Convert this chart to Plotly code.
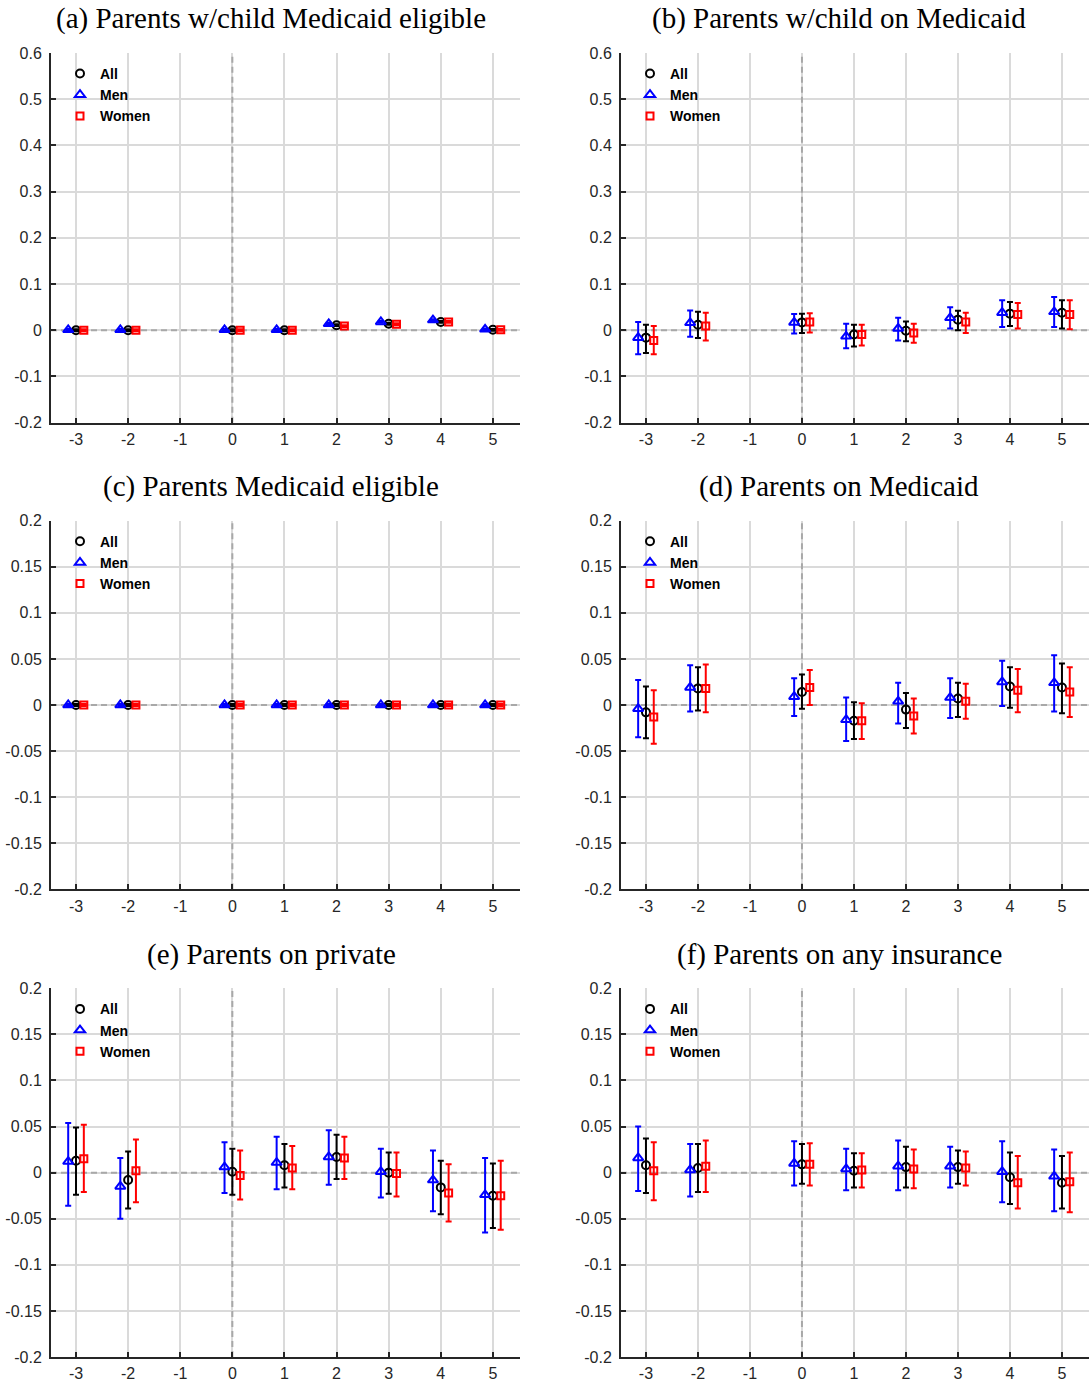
import plotly.graph_objects as go

# ---------------- data ----------------
event_time = [-3, -2, 0, 1, 2, 3, 4, 5]

x_tickvals = [-3, -2, -1, 0, 1, 2, 3, 4, 5]
x_ticktext = ["-3", "-2", "-1", "0", "1", "2", "3", "4", "5"]
y_tickvals_top = [-0.2, -0.1, 0, 0.1, 0.2, 0.3, 0.4, 0.5, 0.6]
y_ticktext_top = ["-0.2", "-0.1", "0", "0.1", "0.2", "0.3", "0.4", "0.5", "0.6"]
y_tickvals_low = [-0.2, -0.15, -0.1, -0.05, 0, 0.05, 0.1, 0.15, 0.2]
y_ticktext_low = ["-0.2", "-0.15", "-0.1", "-0.05", "0", "0.05", "0.1", "0.15", "0.2"]

group_names = ["All", "Men", "Women"]

panel_titles = [
    "(a) Parents w/child Medicaid eligible",
    "(b) Parents w/child on Medicaid",
    "(c) Parents Medicaid eligible",
    "(d) Parents on Medicaid",
    "(e) Parents on private",
    "(f) Parents on any insurance",
]

# (a) Parents w/child Medicaid eligible
a_all = [0.000, 0.000, 0.000, 0.000, 0.011, 0.014, 0.018, 0.001]
a_all_lo = [-0.002, -0.002, -0.002, -0.002, 0.009, 0.012, 0.016, -0.001]
a_all_hi = [0.002, 0.002, 0.002, 0.002, 0.013, 0.016, 0.020, 0.003]
a_men = [0.001, 0.001, 0.001, 0.001, 0.014, 0.018, 0.022, 0.002]
a_men_lo = [-0.001, -0.001, -0.001, -0.001, 0.012, 0.016, 0.020, 0.000]
a_men_hi = [0.003, 0.003, 0.003, 0.003, 0.016, 0.020, 0.024, 0.004]
a_women = [0.000, 0.000, 0.000, 0.000, 0.009, 0.013, 0.018, 0.001]
a_women_lo = [-0.002, -0.002, -0.002, -0.002, 0.007, 0.011, 0.016, -0.001]
a_women_hi = [0.002, 0.002, 0.002, 0.002, 0.011, 0.015, 0.020, 0.003]

# (b) Parents w/child on Medicaid
b_all = [-0.016, 0.012, 0.017, -0.009, -0.001, 0.023, 0.036, 0.038]
b_all_lo = [-0.049, -0.017, -0.006, -0.035, -0.024, 0.000, 0.009, 0.004]
b_all_hi = [0.012, 0.040, 0.036, 0.012, 0.019, 0.042, 0.061, 0.065]
b_men = [-0.016, 0.016, 0.017, -0.013, 0.004, 0.027, 0.038, 0.040]
b_men_lo = [-0.052, -0.014, -0.007, -0.039, -0.022, 0.004, 0.007, 0.007]
b_men_hi = [0.018, 0.043, 0.035, 0.014, 0.027, 0.050, 0.065, 0.072]
b_women = [-0.022, 0.009, 0.018, -0.009, -0.006, 0.018, 0.034, 0.034]
b_women_lo = [-0.052, -0.022, -0.005, -0.033, -0.027, -0.006, 0.004, 0.002]
b_women_hi = [0.009, 0.038, 0.037, 0.012, 0.014, 0.038, 0.059, 0.065]

# (c) Parents Medicaid eligible
c_all = [0.000, 0.000, 0.000, 0.000, 0.000, 0.000, 0.000, 0.000]
c_all_lo = [-0.001, -0.001, -0.001, -0.001, -0.001, -0.001, -0.001, -0.001]
c_all_hi = [0.001, 0.001, 0.001, 0.001, 0.001, 0.001, 0.001, 0.001]
c_men = [0.000, 0.000, 0.000, 0.000, 0.000, 0.000, 0.000, 0.000]
c_men_lo = [-0.001, -0.001, -0.001, -0.001, -0.001, -0.001, -0.001, -0.001]
c_men_hi = [0.001, 0.001, 0.001, 0.001, 0.001, 0.001, 0.001, 0.001]
c_women = [0.000, 0.000, 0.000, 0.000, 0.000, 0.000, 0.000, 0.000]
c_women_lo = [-0.001, -0.001, -0.001, -0.001, -0.001, -0.001, -0.001, -0.001]
c_women_hi = [0.001, 0.001, 0.001, 0.001, 0.001, 0.001, 0.001, 0.001]

# (d) Parents on Medicaid
d_all = [-0.008, 0.018, 0.014, -0.017, -0.005, 0.007, 0.020, 0.019]
d_all_lo = [-0.036, -0.006, -0.004, -0.037, -0.025, -0.013, -0.003, -0.009]
d_all_hi = [0.020, 0.041, 0.033, 0.003, 0.013, 0.024, 0.041, 0.045]
d_men = [-0.004, 0.019, 0.009, -0.016, 0.004, 0.008, 0.025, 0.024]
d_men_lo = [-0.035, -0.007, -0.012, -0.039, -0.020, -0.014, -0.001, -0.007]
d_men_hi = [0.027, 0.043, 0.029, 0.008, 0.024, 0.029, 0.048, 0.054]
d_women = [-0.013, 0.018, 0.019, -0.017, -0.012, 0.004, 0.016, 0.014]
d_women_lo = [-0.042, -0.008, 0.000, -0.037, -0.031, -0.015, -0.008, -0.013]
d_women_hi = [0.016, 0.044, 0.038, 0.002, 0.007, 0.023, 0.039, 0.041]

# (e) Parents on private
e_all = [0.013, -0.008, 0.001, 0.008, 0.017, 0.000, -0.016, -0.025]
e_all_lo = [-0.024, -0.039, -0.024, -0.016, -0.007, -0.023, -0.045, -0.060]
e_all_hi = [0.049, 0.023, 0.026, 0.031, 0.041, 0.022, 0.013, 0.010]
e_men = [0.012, -0.015, 0.006, 0.011, 0.017, 0.001, -0.008, -0.024]
e_men_lo = [-0.036, -0.050, -0.022, -0.018, -0.013, -0.027, -0.042, -0.065]
e_men_hi = [0.054, 0.016, 0.033, 0.039, 0.046, 0.026, 0.024, 0.016]
e_women = [0.015, 0.002, -0.003, 0.005, 0.016, -0.001, -0.022, -0.025]
e_women_lo = [-0.021, -0.032, -0.029, -0.018, -0.007, -0.026, -0.053, -0.062]
e_women_hi = [0.052, 0.036, 0.024, 0.029, 0.039, 0.022, 0.009, 0.013]

# (f) Parents on any insurance
f_all = [0.008, 0.005, 0.009, 0.002, 0.006, 0.006, -0.005, -0.011]
f_all_lo = [-0.022, -0.021, -0.012, -0.016, -0.016, -0.012, -0.034, -0.039]
f_all_hi = [0.037, 0.031, 0.031, 0.021, 0.028, 0.024, 0.022, 0.018]
f_men = [0.016, 0.003, 0.010, 0.004, 0.007, 0.007, 0.001, -0.004]
f_men_lo = [-0.020, -0.026, -0.014, -0.019, -0.019, -0.016, -0.032, -0.042]
f_men_hi = [0.050, 0.031, 0.034, 0.026, 0.035, 0.028, 0.034, 0.025]
f_women = [0.002, 0.007, 0.009, 0.003, 0.004, 0.005, -0.011, -0.010]
f_women_lo = [-0.030, -0.021, -0.014, -0.016, -0.017, -0.014, -0.039, -0.043]
f_women_hi = [0.033, 0.035, 0.032, 0.021, 0.025, 0.023, 0.018, 0.022]

panels = [
    [(a_all, a_all_lo, a_all_hi), (a_men, a_men_lo, a_men_hi), (a_women, a_women_lo, a_women_hi)],
    [(b_all, b_all_lo, b_all_hi), (b_men, b_men_lo, b_men_hi), (b_women, b_women_lo, b_women_hi)],
    [(c_all, c_all_lo, c_all_hi), (c_men, c_men_lo, c_men_hi), (c_women, c_women_lo, c_women_hi)],
    [(d_all, d_all_lo, d_all_hi), (d_men, d_men_lo, d_men_hi), (d_women, d_women_lo, d_women_hi)],
    [(e_all, e_all_lo, e_all_hi), (e_men, e_men_lo, e_men_hi), (e_women, e_women_lo, e_women_hi)],
    [(f_all, f_all_lo, f_all_hi), (f_men, f_men_lo, f_men_hi), (f_women, f_women_lo, f_women_hi)],
]

# ---------------- styling / layout ----------------
W, H = 1089, 1389
# the page is displayed with an 8px top offset and a 1373px tall paper
Y_OFF, H_EFF = 8.0, 1373.0


def yfrac(px):
    return 1 - (px - Y_OFF) / H_EFF


col_px = [(51, 520), (621, 1089)]
row_px = [(53, 423), (521, 890), (989, 1358)]
title_x_px = [271, 839]
title_y_px = [19, 487, 955]
x_range = [-3.48, 5.52]

group_style = {
    "All": dict(color="#000000", symbol="circle-open", size=8, offset=0.0),
    "Men": dict(color="#0000ff", symbol="triangle-up-open", size=9, offset=-0.15),
    "Women": dict(color="#ff0000", symbol="square-open", size=7, offset=0.15),
}

axis_color = "#262626"
grid_color = "#dadada"
ref_color = "#a8a8a8"
tick_font = dict(family="Liberation Sans, Arial, sans-serif", size=16, color=axis_color)

fig = go.Figure()
layout = dict(
    width=W, height=H,
    margin=dict(l=0, r=0, t=0, b=0),
    paper_bgcolor="white", plot_bgcolor="white",
    showlegend=True,
    shapes=[], annotations=[],
)

for p in range(6):
    r, c = divmod(p, 2)
    idx = p + 1
    xa = "xaxis" if idx == 1 else f"xaxis{idx}"
    ya = "yaxis" if idx == 1 else f"yaxis{idx}"
    xref = "x" if idx == 1 else f"x{idx}"
    yref = "y" if idx == 1 else f"y{idx}"
    leg = "legend" if idx == 1 else f"legend{idx}"

    x0, x1 = col_px[c]
    ytop, ybot = row_px[r]
    if r == 0:
        yvals, ytext, yrange = y_tickvals_top, y_ticktext_top, [-0.2, 0.6]
    else:
        yvals, ytext, yrange = y_tickvals_low, y_ticktext_low, [-0.2, 0.2]

    layout[xa] = dict(
        domain=[x0 / W, x1 / W], anchor=yref, range=x_range,
        tickmode="array", tickvals=x_tickvals, ticktext=x_ticktext,
        showgrid=True, gridcolor=grid_color, gridwidth=2,
        showline=True, linecolor=axis_color, linewidth=2,
        ticks="inside", ticklen=5, tickwidth=2, tickcolor=axis_color,
        zeroline=False, tickfont=tick_font, ticklabelstandoff=1,
        fixedrange=True,
    )
    layout[ya] = dict(
        domain=[yfrac(ybot), yfrac(ytop)], anchor=xref, range=yrange,
        tickmode="array", tickvals=yvals, ticktext=ytext,
        showgrid=True, gridcolor=grid_color, gridwidth=2,
        showline=True, linecolor=axis_color, linewidth=2,
        ticks="inside", ticklen=5, tickwidth=2, tickcolor=axis_color,
        zeroline=False, tickfont=tick_font, ticklabelstandoff=4,
        fixedrange=True,
    )

    # reference lines at 0
    layout["shapes"].append(dict(type="line", xref=xref, yref=yref, x0=0, x1=0,
                                 y0=yrange[0], y1=yrange[1],
                                 line=dict(color=ref_color, width=2, dash="6px,4px"), layer="between"))
    layout["shapes"].append(dict(type="line", xref=xref, yref=yref, x0=x_range[0], x1=x_range[1],
                                 y0=0, y1=0,
                                 line=dict(color=ref_color, width=2, dash="6px,4px"), layer="between"))

    # title
    layout["annotations"].append(dict(
        text=panel_titles[p], xref="paper", yref="paper",
        x=title_x_px[c] / W, y=yfrac(title_y_px[r]),
        xanchor="center", yanchor="middle", showarrow=False,
        font=dict(family="Liberation Serif, Times New Roman, serif", size=29, color="#000000"),
    ))

    # legend
    layout[leg] = dict(
        x=(x0 + 9) / W, y=yfrac(ytop + 5), xanchor="left", yanchor="top",
        bgcolor="rgba(0,0,0,0)", borderwidth=0,
        font=dict(family="Liberation Sans, Arial, sans-serif", size=14, color="#000000", weight="bold"),
        tracegroupgap=0, itemsizing="trace",
    )

    for gname, (est, lo, hi) in zip(group_names, panels[p]):
        st = group_style[gname]
        xs = [t + st["offset"] for t in event_time]
        fig.add_trace(go.Scatter(
            x=xs, y=est, mode="markers", name=gname,
            xaxis=xref, yaxis=yref, legend=leg,
            marker=dict(symbol=st["symbol"], size=st["size"], color=st["color"],
                        line=dict(color=st["color"], width=2)),
            error_y=dict(type="data", symmetric=False,
                         array=[h - e for h, e in zip(hi, est)],
                         arrayminus=[e - l for e, l in zip(est, lo)],
                         color=st["color"], thickness=2, width=3),
            hoverinfo="skip",
        ))

fig.update_layout(**layout)
fig.write_html("out.html")
